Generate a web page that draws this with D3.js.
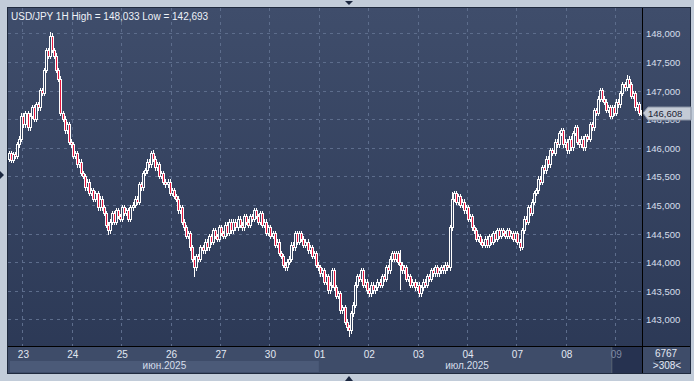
<!DOCTYPE html>
<html>
<head>
<meta charset="utf-8">
<script src="https://cdn.jsdelivr.net/npm/d3@7"></script>
<style>
body { margin: 0; background: #c2ccd9; }
svg { display: block; }
text { font-family: "Liberation Sans", Arial, sans-serif; }
</style>
</head>
<body>
<div class="chart"></div>
<script>
// Hourly closes, USD/JPY 1H (308 candles)
var closes = [
  145.90, 145.78, 145.88, 145.85, 146.05, 146.15, 146.55,
  146.40, 146.60, 146.35, 146.55, 146.70, 146.50,
  146.75, 146.70, 147.00, 146.95, 147.35,
  147.70, 147.60, 147.95, 147.70,
  147.60, 147.35, 147.20, 146.60,
  146.50, 146.30, 146.40, 146.10, 146.05,
  145.85, 145.90, 145.70, 145.75, 145.55,
  145.50, 145.30, 145.40, 145.20, 145.25,
  145.10, 145.20, 144.95, 145.10, 144.95,
  144.85, 144.65, 144.55, 144.70, 144.85,
  144.70, 144.90, 144.80, 144.75, 144.95,
  144.85, 144.90, 144.75, 144.95, 145.00,
  145.10, 145.05, 145.35, 145.30, 145.55,
  145.60, 145.75, 145.70, 145.90, 145.80,
  145.65, 145.70, 145.50, 145.55, 145.40,
  145.35, 145.40, 145.20, 145.25, 145.15,
  145.10, 144.90, 144.95, 144.70, 144.60,
  144.45, 144.50, 144.25, 144.05, 143.90,
  144.10, 144.05, 144.25, 144.20, 144.35,
  144.25, 144.45, 144.35, 144.55, 144.45,
  144.40, 144.60, 144.50, 144.45, 144.65,
  144.50, 144.70, 144.55, 144.70, 144.60,
  144.75, 144.65, 144.60, 144.80, 144.70,
  144.65, 144.80, 144.75, 144.90, 144.80,
  144.70, 144.85, 144.65, 144.70, 144.50,
  144.60, 144.45, 144.50, 144.30, 144.35,
  144.15, 144.10, 143.95, 143.90, 144.00,
  144.05, 144.30, 144.25, 144.50, 144.35,
  144.50, 144.40, 144.30, 144.35, 144.20,
  144.25, 144.10, 144.15, 143.95, 143.90,
  143.80, 143.85, 143.65, 143.75, 143.50,
  143.60, 143.85, 143.55, 143.40, 143.45,
  143.15, 143.20, 142.95, 142.85, 142.80,
  143.10, 143.25, 143.60, 143.75, 143.70,
  143.85, 143.60, 143.65, 143.50, 143.45,
  143.60, 143.50, 143.55, 143.65, 143.60,
  143.75, 143.70, 143.90, 143.85, 144.05,
  144.15, 144.05, 144.15, 144.00, 143.95,
  143.85, 143.90, 143.70, 143.75, 143.60,
  143.65, 143.55, 143.60, 143.45, 143.55,
  143.65, 143.60, 143.75, 143.70, 143.85,
  143.80, 143.90, 143.80, 143.85, 143.90,
  143.85, 143.95, 143.90, 144.60, 145.10,
  145.20, 145.05, 145.15, 145.00, 145.05,
  144.90, 144.95, 144.75, 144.80, 144.60,
  144.55, 144.40, 144.45, 144.35, 144.30,
  144.40, 144.30, 144.45, 144.35, 144.50,
  144.40, 144.55, 144.45, 144.55, 144.50,
  144.45, 144.55, 144.45, 144.50, 144.40,
  144.50, 144.35, 144.25, 144.55, 144.75,
  144.70, 144.95, 144.85, 145.05, 145.20,
  145.25, 145.45, 145.40, 145.65, 145.60,
  145.80, 145.70, 145.95, 145.90, 146.10,
  146.05, 146.25, 146.30, 146.05, 146.10,
  145.95, 146.15, 146.00, 146.25, 146.35,
  146.10, 146.05, 146.15, 146.00, 146.20,
  146.15, 146.40, 146.35, 146.65, 146.60,
  146.85, 147.00, 146.85, 146.80, 146.65,
  146.70, 146.55, 146.70, 146.60, 146.80,
  146.75, 146.95, 147.10, 147.05, 147.20,
  147.10, 146.90, 146.95, 146.70, 146.75,
  146.60, 146.608
];
var firstOpen = 145.80;

// Notable wicks (index -> price)
var highWicks = {20: 148.033, 70: 145.97, 190: 144.22, 215: 145.22, 300: 147.27};
var lowWicks = {48: 144.48, 90: 143.75, 165: 142.693, 190: 143.52, 249: 144.22};

var dayIndex = [7, 31, 55, 79, 103, 127, 151, 175, 199, 223, 247, 271, 295];
var dayLabels = ["23", "24", "25", "26", "27", "30", "01", "02", "03", "04", "07", "08", "09"];
var priceTicks = [143, 143.5, 144, 144.5, 145, 145.5, 146, 146.5, 147, 147.5, 148];
var months = [{label: "июн.2025", from: 1, to: 151}, {label: "июл.2025", from: 151, to: 295}];

var lastPrice = 146.608;
var titleText = "USD/JPY 1H High = 148,033 Low = 142,693";

var svgWidth = 694, svgHeight = 381;
var plot = {left: 8, right: 642, top: 8, bottom: 346};

var svg = d3.select(".chart").append("svg")
  .attr("width", svgWidth).attr("height", svgHeight);

var defs = svg.append("defs");
var grad = defs.append("linearGradient").attr("id", "bg").attr("x1", 0).attr("y1", 0).attr("x2", 0).attr("y2", 1);
grad.append("stop").attr("offset", "0%").attr("stop-color", "#3f4d6b");
grad.append("stop").attr("offset", "100%").attr("stop-color", "#2b3855");

// frame
svg.append("rect").attr("width", svgWidth).attr("height", svgHeight).attr("fill", "#c2ccd9");
svg.append("rect").attr("x", 7).attr("y", 7).attr("width", 684).attr("height", 367).attr("fill", "#1f2a3e");
svg.append("rect").attr("x", 8).attr("y", 8).attr("width", 682).attr("height", 365).attr("fill", "url(#bg)");

// date axis area
svg.append("rect").attr("x", 8).attr("y", plot.bottom).attr("width", 682).attr("height", 27).attr("fill", "#3e4c69");

var x = d3.scaleLinear().domain([0, closes.length]).range([plot.left, plot.right]);
var y = d3.scaleLinear().domain([143, 148]).range([319.4, 33.4]);

var fmt = function(v) { return d3.format(".3f")(v).replace(".", ","); };

// month bar (June shaded lighter)
svg.selectAll(".month-bar").data(months.slice(0, 1))
  .enter().append("rect")
  .attr("x", 10)
  .attr("y", 361).attr("height", 11)
  .attr("width", function(m) { return x(m.to) - 10; })
  .attr("fill", "#4b5a78");

// 09 (current day) darker cell
var lastDayX = x(dayIndex[dayIndex.length - 1]);
svg.append("rect").attr("x", lastDayX - 3).attr("y", plot.bottom + 1)
  .attr("width", plot.right - lastDayX + 3).attr("height", 26).attr("fill", "#263250");
svg.append("line").attr("x1", lastDayX - 3.5).attr("x2", lastDayX - 3.5)
  .attr("y1", plot.bottom + 1).attr("y2", 373).attr("stroke", "#56606f");

// grid
var grid = svg.append("g");
grid.selectAll(".hg").data(priceTicks).enter().append("line")
  .attr("x1", plot.left).attr("x2", plot.right)
  .attr("y1", function(d) { return Math.round(y(d)) + 0.5; })
  .attr("y2", function(d) { return Math.round(y(d)) + 0.5; })
  .attr("stroke", "#5d6d8c").attr("stroke-dasharray", "3,4");
grid.selectAll(".vg").data(dayIndex).enter().append("line")
  .attr("x1", function(d) { return Math.round(x(d)) + 0.5; })
  .attr("x2", function(d) { return Math.round(x(d)) + 0.5; })
  .attr("y1", plot.top).attr("y2", plot.bottom)
  .attr("stroke", "#5d6d8c").attr("stroke-dasharray", "3,4");

// candles
var candles = closes.map(function(c, i) {
  var o = i === 0 ? firstOpen : closes[i - 1];
  var hi = highWicks[i] !== undefined ? highWicks[i] : Math.max(o, c) + 0.05;
  var lo = lowWicks[i] !== undefined ? lowWicks[i] : Math.min(o, c) - 0.05;
  return {i: i, o: o, h: hi, l: lo, c: c};
});

var cg = svg.append("g").attr("shape-rendering", "crispEdges");
cg.selectAll(".wick").data(candles).enter().append("line")
  .attr("x1", function(d) { return Math.round(x(d.i + 0.5)) + 0.5; })
  .attr("x2", function(d) { return Math.round(x(d.i + 0.5)) + 0.5; })
  .attr("y1", function(d) { return y(d.h); })
  .attr("y2", function(d) { return y(d.l); })
  .attr("stroke", "#ffffff");
cg.selectAll(".body").data(candles).enter().append("rect")
  .attr("x", function(d) { return Math.round(x(d.i + 0.5)) - 0.5; })
  .attr("width", 2)
  .attr("y", function(d) { return y(Math.max(d.o, d.c)); })
  .attr("height", function(d) { return Math.max(1, Math.abs(y(d.o) - y(d.c))); })
  .attr("fill", function(d) { return d.c < d.o ? "#e3173e" : "#34425f"; })
  .attr("stroke", "#ffffff").attr("stroke-width", 1);

// divider lines
svg.append("line").attr("x1", plot.right + 0.5).attr("x2", plot.right + 0.5).attr("y1", 8).attr("y2", 373).attr("stroke", "#000");
svg.append("line").attr("x1", 8).attr("x2", 690).attr("y1", plot.bottom + 0.5).attr("y2", plot.bottom + 0.5).attr("stroke", "#000");

// price axis labels
svg.selectAll(".ptick").data(priceTicks).enter().append("text")
  .attr("x", 646).attr("y", function(d) { return y(d) + 4; })
  .attr("font-size", 9.5).attr("fill", "#d6deeb")
  .text(fmt);

// last price marker
var ly = y(lastPrice);
svg.append("path")
  .attr("d", "M643," + ly + " L648," + (ly - 6) + " L691," + (ly - 6) + " L691," + (ly + 7) + " L648," + (ly + 7) + " Z")
  .attr("fill", "#c3cad5").attr("stroke", "#8a94a4");
svg.append("text").attr("x", 648).attr("y", ly + 4).attr("font-size", 9.5).attr("fill", "#1b2233").text(fmt(lastPrice));

// day labels
svg.selectAll(".dtick").data(dayIndex).enter().append("text")
  .attr("x", function(d) { return x(d) + 1; }).attr("y", 358)
  .attr("text-anchor", "middle").attr("font-size", 10)
  .attr("fill", function(d, i) { return i === dayIndex.length - 1 ? "#7f8ba3" : "#e2e8f2"; })
  .text(function(d, i) { return dayLabels[i]; });

svg.selectAll(".mlabel").data(months).enter().append("text")
  .attr("x", function(m) { return (x(m.from) + x(m.to)) / 2; }).attr("y", 369)
  .attr("text-anchor", "middle").attr("font-size", 10).attr("fill", "#d6deeb")
  .text(function(m) { return m.label; });

// bottom-right counter
svg.append("text").attr("x", 666).attr("y", 357).attr("text-anchor", "middle").attr("font-size", 10).attr("fill", "#e2e8f2").text("6767");
svg.append("line").attr("x1", 655).attr("x2", 680).attr("y1", 360.5).attr("y2", 360.5).attr("stroke", "#1f2a3e");
svg.append("text").attr("x", 667).attr("y", 369).attr("text-anchor", "middle").attr("font-size", 10).attr("fill", "#e2e8f2").text(">" + closes.length + "<");

// title
svg.append("text").attr("x", 11).attr("y", 20).attr("font-size", 10).attr("fill", "#eef2f8").text(titleText);

// scroll arrows
svg.append("path").attr("d", "M345,1 L353,1 L349,5 Z").attr("fill", "#1b2740");
svg.append("path").attr("d", "M345,381 L353,381 L349,376 Z").attr("fill", "#1b2740");
svg.append("path").attr("d", "M0,171 L4,175 L0,179 Z").attr("fill", "#1b2740");
</script>
</body>
</html>
